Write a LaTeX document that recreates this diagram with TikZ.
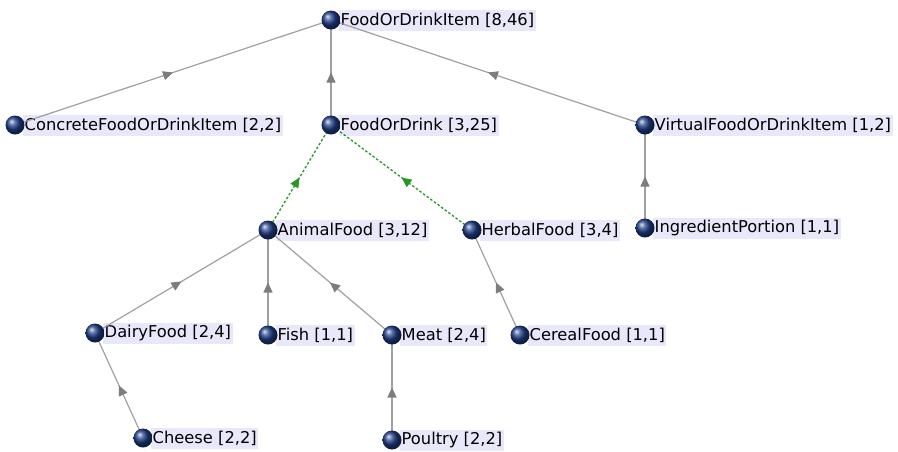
\documentclass[tikz,border=0pt]{standalone}
\usepackage{fontspec}
\setmainfont{DejaVu Sans}
\usepackage{tikz}
\usetikzlibrary{arrows.meta,decorations.markings,backgrounds,positioning,calc}
\definecolor{ballblue}{RGB}{30,62,135}
\definecolor{tagfill}{RGB}{232,232,250}
\definecolor{edgegray}{RGB}{160,160,160}
\definecolor{tipgray}{RGB}{125,125,125}
\definecolor{dashgreen}{RGB}{40,150,40}
\tikzset{
  ball/.style  ={circle, inner sep=0pt, minimum size=19pt, shading=ball,
                 ball color=ballblue},
  tag/.style   ={anchor=west, fill=tagfill, inner xsep=1.5pt, inner ysep=0pt,
                 minimum height=21pt, font=\fontsize{16.3}{18}\selectfont},
  isa/.style   ={draw=edgegray, line width=1.2pt,
                 postaction={decorate, decoration={markings,
                   mark=at position 0.5 with {\arrow[tipgray]{Triangle[length=10pt,width=9pt]}}}}},
  sub/.style   ={draw=dashgreen, line width=1.3pt, dash pattern=on 2.5pt off 2pt,
                 postaction={decorate, decoration={markings,
                   mark=at position 0.5 with {\arrow[dashgreen]{Triangle[length=10pt,width=9pt]}}}}}
}

\begin{document}
\begin{tikzpicture}[x=1pt, y=-1pt]
  \useasboundingbox (0,0) rectangle (898,451);
  % concepts
  \node[ball] (item)     at (331,20)  {};
  \node[ball] (concrete) at (15,125)  {};
  \node[ball] (fod)      at (331,125) {};
  \node[ball] (virtual)  at (645,125) {};
  \node[ball] (animal)   at (268,230) {};
  \node[ball] (herbal)   at (472,230) {};
  \node[ball] (ingred)   at (645,228) {};
  \node[ball] (dairy)    at (95,333)  {};
  \node[ball] (fish)     at (268,335) {};
  \node[ball] (meat)     at (392,335) {};
  \node[ball] (cereal)   at (520,335) {};
  \node[ball] (cheese)   at (143,438) {};
  \node[ball] (poultry)  at (392,440) {};
  % labels
  \begin{scope}[on background layer]
    \node[tag] (item-t)     at ($(item)+(8,0)$)     {FoodOrDrinkItem [8,46]};
    \node[tag] (concrete-t) at ($(concrete)+(8,0)$) {ConcreteFoodOrDrinkItem [2,2]};
    \node[tag] (fod-t)      at ($(fod)+(8,0)$)      {FoodOrDrink [3,25]};
    \node[tag] (virtual-t)  at ($(virtual)+(8,0)$)  {VirtualFoodOrDrinkItem [1,2]};
    \node[tag] (animal-t)   at ($(animal)+(8,0)$)   {AnimalFood [3,12]};
    \node[tag] (herbal-t)   at ($(herbal)+(8,0)$)   {HerbalFood [3,4]};
    \node[tag] (ingred-t)   at ($(ingred)+(8,0)$)   {IngredientPortion [1,1]};
    \node[tag] (dairy-t)    at ($(dairy)+(8,0)$)    {DairyFood [2,4]};
    \node[tag] (fish-t)     at ($(fish)+(8,0)$)     {Fish [1,1]};
    \node[tag] (meat-t)     at ($(meat)+(8,0)$)     {Meat [2,4]};
    \node[tag] (cereal-t)   at ($(cereal)+(8,0)$)   {CerealFood [1,1]};
    \node[tag] (cheese-t)   at ($(cheese)+(8,0)$)   {Cheese [2,2]};
    \node[tag] (poultry-t)  at ($(poultry)+(8,0)$)  {Poultry [2,2]};
  \end{scope}
  % links
  \begin{scope}[on background layer]
    \draw[isa] (concrete.center) -- (item.center);
    \draw[isa] (fod.center)      -- (item.center);
    \draw[isa] (virtual.center)  -- (item.center);
    \draw[sub] (animal.center)   -- (fod.center);
    \draw[sub] (herbal.center)   -- (fod.center);
    \draw[isa] (ingred.center)   -- (virtual.center);
    \draw[isa] (dairy.center)    -- (animal.center);
    \draw[isa] (fish.center)     -- (animal.center);
    \draw[isa] (meat.center)     -- (animal.center);
    \draw[isa] (cereal.center)   -- (herbal.center);
    \draw[isa] (cheese.center)   -- (dairy.center);
    \draw[isa] (poultry.center)  -- (meat.center);
  \end{scope}
\end{tikzpicture}
\end{document}
